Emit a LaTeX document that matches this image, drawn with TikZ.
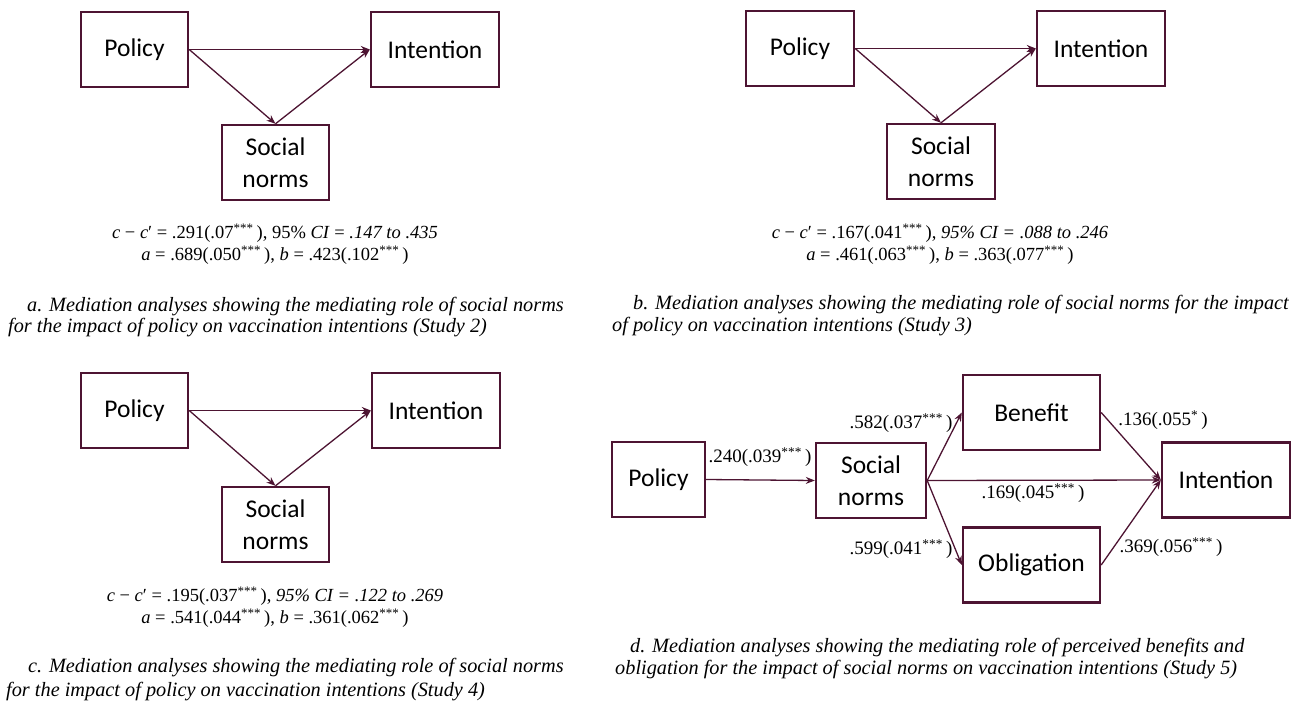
\documentclass[tikz,border=0pt]{standalone}
\usepackage{amsmath}
\usepackage{fontspec}
\setmainfont{Liberation Serif}
\newfontfamily\boxfont{Carlito}
\usepackage{tikz}
\usetikzlibrary{arrows.meta}
\definecolor{plum}{RGB}{77,20,50}
\newcommand{\sig}[1]{\textsuperscript{#1}\,}

\begin{document}
\begin{tikzpicture}[x=1pt, y=-1pt,
  box/.style={draw=plum, line width=2.4pt, minimum height=75pt, align=center, font=\boxfont\fontsize{25.5}{32}\selectfont},
  link/.style={-{Stealth[length=9pt,width=7pt]}, draw=plum, line width=1.3pt},
  est/.style={align=center, font=\fontsize{18.5}{22}\selectfont},
  coef/.style={font=\fontsize{19}{21}\selectfont},
  captext/.style={anchor=west, inner sep=0pt, font=\itshape\fontsize{20.3}{22}\selectfont}]
\useasboundingbox (0,0) rectangle (1295,701);

\node (pola) at (134.5,49.5) [box, minimum width=107pt] {Policy};
\node (inta) at (435,49.5) [box, minimum width=128pt] {Intention};
\node (soca) at (275.5,162.5) [box, minimum width=107pt] {Social\\norms};
\draw[link] (pola.east) -- (inta.west);
\draw[link] (pola.east) -- (soca.north);
\draw[link] (soca.north) -- (inta.west);
\node (esta) at (275,244) [est] {\textit{c} − \textit{c}′ = .291(.07\sig{***}), 95\% \textit{CI} = \textit{.147 to .435}\\\textit{a} = .689(.050\sig{***}), \textit{b} = .423(.102\sig{***})};
\node (capa1) at (27,307) [captext] {a. Mediation analyses showing the mediating role of social norms};
\node (capa2) at (8,328) [captext] {for the impact of policy on vaccination intentions (Study 2)};

\node (polb) at (800,48.5) [box, minimum width=108pt] {Policy};
\node (intb) at (1101,48.5) [box, minimum width=128pt] {Intention};
\node (socb) at (941,161.5) [box, minimum width=108pt] {Social\\norms};
\draw[link] (polb.east) -- (intb.west);
\draw[link] (polb.east) -- (socb.north);
\draw[link] (socb.north) -- (intb.west);
\node (estb) at (940,244) [est] {\textit{c} − \textit{c}′ = .167(.041\sig{***}), \textit{95\% CI = .088 to .246}\\\textit{a} = .461(.063\sig{***}), \textit{b} = .363(.077\sig{***})};
\node (capb1) at (633,305) [captext] {b. Mediation analyses showing the mediating role of social norms for the impact};
\node (capb2) at (612,327) [captext] {of policy on vaccination intentions (Study 3)};

\node (polc) at (134.5,410.5) [box, minimum width=107pt] {Policy};
\node (intc) at (436,410.5) [box, minimum width=128pt] {Intention};
\node (socc) at (275.5,524.5) [box, minimum width=107pt] {Social\\norms};
\draw[link] (polc.east) -- (intc.west);
\draw[link] (polc.east) -- (socc.north);
\draw[link] (socc.north) -- (intc.west);
\node (estc) at (275,607) [est] {\textit{c} − \textit{c}′ = .195(.037\sig{***}), \textit{95\% CI = .122 to .269}\\\textit{a} = .541(.044\sig{***}), \textit{b} = .361(.062\sig{***})};
\node (capc1) at (28,668) [captext] {c. Mediation analyses showing the mediating role of social norms};
\node (capc2) at (6,692) [captext] {for the impact of policy on vaccination intentions (Study 4)};

\node (pold) at (658.5,479.5) [box, minimum width=93pt] {Policy};
\node (socd) at (871,480.5) [box, minimum width=110pt] {Social\\norms};
\node (bend) at (1031.5,412.5) [box, minimum width=137pt] {Benefit};
\node (obld) at (1031.5,565) [box, minimum width=137pt] {Obligation};
\node (intd) at (1226,480) [box, minimum width=128pt] {Intention};
\draw[link] (pold.east) -- (socd.west);
\draw[link] (socd.east) -- (bend.west);
\draw[link] (socd.east) -- (obld.west);
\draw[link] (socd.east) -- (intd.west);
\draw[link] (bend.east) -- (intd.west);
\draw[link] (obld.east) -- (intd.west);
\node (ksd) at (760,457) [coef] {.240(.039\sig{***})};
\node (kbd) at (901,423) [coef] {.582(.037\sig{***})};
\node (kod) at (901,549) [coef] {.599(.041\sig{***})};
\node (kid) at (1033,493) [coef] {.169(.045\sig{***})};
\node (kbi) at (1163,420) [coef] {.136(.055\sig{*})};
\node (koi) at (1171,547) [coef] {.369(.056\sig{***})};
\node (capd1) at (630,648) [captext] {d. Mediation analyses showing the mediating role of perceived benefits and};
\node (capd2) at (615,670) [captext] {obligation for the impact of social norms on vaccination intentions (Study 5)};
\end{tikzpicture}
\end{document}
